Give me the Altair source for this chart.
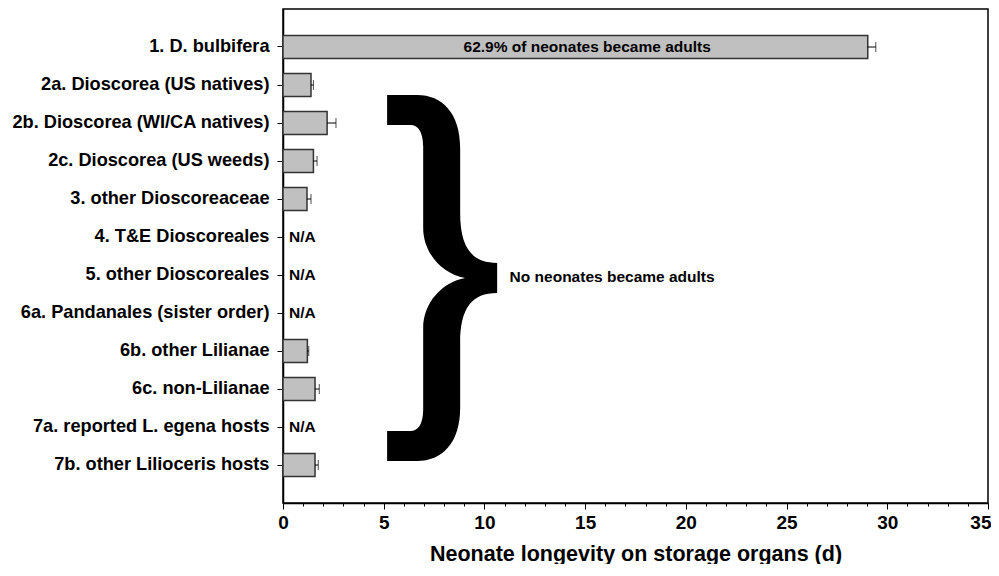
import altair as alt
import pandas as pd

categories = [
    "1. D. bulbifera",
    "2a. Dioscorea (US natives)",
    "2b. Dioscorea (WI/CA natives)",
    "2c. Dioscorea (US weeds)",
    "3. other Dioscoreaceae",
    "4. T&E Dioscoreales",
    "5. other Dioscoreales",
    "6a. Pandanales (sister order)",
    "6b. other Lilianae",
    "6c. non-Lilianae",
    "7a. reported L. egena hosts",
    "7b. other Lilioceris hosts",
]
longevity = [29.03, 1.39, 2.19, 1.51, 1.19, None, None, None, 1.21, 1.59, None, 1.59]
sem = [0.40, 0.12, 0.44, 0.18, 0.20, None, None, None, 0.07, 0.21, None, 0.16]
na_label = "N/A"

note_texts = ["62.9% of neonates became adults", "No neonates became adults"]
note_x = [15.1, 11.25]
note_rows = ["1. D. bulbifera", "5. other Dioscoreales"]

brace_x = [7.9]
brace_rows = ["5. other Dioscoreales"]

x_ticks = list(range(0, 36))
TITLE = "Neonate longevity on storage organs (d)"
FONT = "Liberation Sans"

BRACE = (
    "M -0.299 -0.995 L -0.136 -0.995 C 0 -0.995 0.098 -0.897 0.098 -0.707 "
    "L 0.098 -0.353 C 0.098 -0.163 0.163 -0.082 0.299 -0.082 L 0.299 0.082 "
    "C 0.163 0.082 0.098 0.163 0.098 0.353 L 0.098 0.707 "
    "C 0.098 0.897 0 0.995 -0.136 0.995 L -0.299 0.995 L -0.299 0.832 "
    "L -0.174 0.832 C -0.136 0.832 -0.103 0.804 -0.103 0.712 L -0.103 0.272 "
    "C -0.103 0.136 0 0.022 0.125 0 C 0 -0.022 -0.103 -0.136 -0.103 -0.272 "
    "L -0.103 -0.712 C -0.103 -0.804 -0.136 -0.832 -0.174 -0.832 L -0.299 -0.832 Z"
)

df = pd.DataFrame({"group": categories, "mean": longevity, "sem": sem})
df["upper"] = df["mean"] + df["sem"]
bars_df = df.dropna(subset=["mean"]).copy()
na_df = pd.DataFrame({
    "group": [c for c, v in zip(categories, longevity) if v is None],
})
na_df["zero"] = 0.0
na_df["label"] = na_label
notes_df = pd.DataFrame({"group": note_rows, "x": note_x, "text": note_texts})
brace_df = pd.DataFrame({"group": brace_rows, "x": brace_x})

xscale = alt.Scale(domain=[0, 35], nice=False, zero=True)
yscale = alt.Scale(domain=categories, paddingInner=0.4, paddingOuter=0.7)

x_axis = alt.Axis(
    values=x_ticks,
    labelExpr="datum.value % 5 === 0 ? datum.label : ''",
    labelOverlap=False,
    labelFlush=False,
    labelBound=False,
    labelAlign={"condition": {"test": "datum.value === 35", "value": "right"}, "value": "center"},
    labelOffset={"condition": {"test": "datum.value === 35", "value": 3}, "value": 0},
    tickSize={"condition": {"test": "datum.value % 5 === 0", "value": 6}, "value": 3},
    labelFontSize=19,
    labelPadding=4,
    titleFontSize=21.5,
    titlePadding=11,
)
y_axis = alt.Axis(title=None, labelFontSize=18.2, labelPadding=8, tickSize=6, labelLimit=400)

y_enc = alt.Y("group:N", sort=categories, scale=yscale, axis=y_axis)

bars = alt.Chart(bars_df).mark_bar(fill="#c0c0c0", stroke="#333333", strokeWidth=1.5).encode(
    x=alt.X("mean:Q", scale=xscale, axis=x_axis, title=TITLE),
    y=y_enc,
)
err = alt.Chart(bars_df).mark_rule(color="black", strokeWidth=1).encode(
    x=alt.X("mean:Q", scale=xscale, axis=x_axis, title=TITLE),
    x2="upper:Q",
    y=y_enc,
)
caps = alt.Chart(bars_df).mark_tick(orient="vertical", size=10, thickness=1, color="black").encode(
    x=alt.X("upper:Q", scale=xscale, axis=x_axis, title=TITLE),
    y=y_enc,
)
na_text = alt.Chart(na_df).mark_text(
    align="left", baseline="middle", dx=6, fontSize=15.5, fontWeight="bold", font=FONT, color="black"
).encode(
    x=alt.X("zero:Q", scale=xscale, axis=x_axis, title=TITLE),
    y=y_enc,
    text="label:N",
)
note1 = alt.Chart(notes_df.iloc[[0]]).mark_text(
    align="center", baseline="middle", fontSize=15.5, fontWeight="bold", font=FONT, color="black"
).encode(
    x=alt.X("x:Q", scale=xscale, axis=x_axis, title=TITLE),
    y=y_enc,
    text="text:N",
)
note2 = alt.Chart(notes_df.iloc[[1]]).mark_text(
    align="left", baseline="middle", dy=2, fontSize=15.5, fontWeight="bold", font=FONT, color="black"
).encode(
    x=alt.X("x:Q", scale=xscale, axis=x_axis, title=TITLE),
    y=y_enc,
    text="text:N",
)
brace = alt.Chart(brace_df).mark_point(
    shape=BRACE, size=368 * 368, filled=True, color="black", opacity=1, strokeWidth=0
).encode(
    x=alt.X("x:Q", scale=xscale, axis=x_axis, title=TITLE),
    y=y_enc,
    yOffset=alt.value(14.4),
)

chart = alt.layer(bars, err, caps, na_text, note1, note2, brace).properties(
    width=705,
    height=494,
    padding={"left": 275, "top": 1, "right": 3, "bottom": 61},
    autosize=alt.AutoSizeParams(type="none"),
).configure(
    font=FONT,
).configure_axis(
    grid=False,
    labelFont=FONT,
    labelFontWeight="bold",
    labelColor="black",
    titleFont=FONT,
    titleFontWeight="bold",
    titleColor="black",
    domainColor="black",
    domainWidth=1.5,
    tickColor="black",
    tickWidth=1,
).configure_axisX(
    labelOverlap=False,
    labelFlush=False,
).configure_view(
    stroke="black",
    strokeWidth=1.5,
)

chart.save("out.html", embed_options={"renderer": "svg", "actions": False})
